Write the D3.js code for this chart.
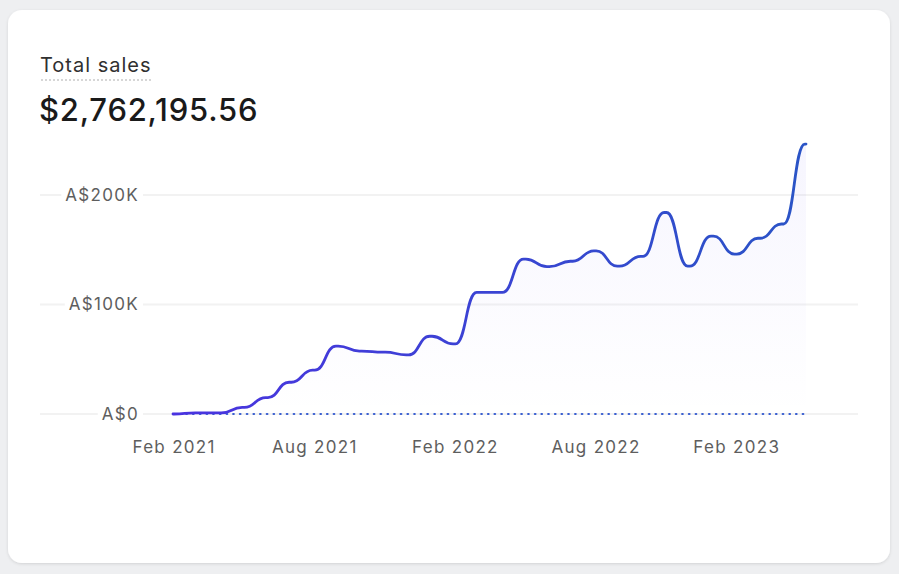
<!DOCTYPE html>
<html>
<head>
<meta charset="utf-8">
<script src="https://cdn.jsdelivr.net/npm/d3@7"></script>
<style>
  html, body { margin: 0; padding: 0; background: #eeeff1; }
  svg { display: block; }
  text { font-family: Inter, "Noto Sans", sans-serif; }
</style>
</head>
<body>
<svg id="chart" width="899" height="574"></svg>
<script>
// ---- data ----
const months = ["Feb 2021","Mar 2021","Apr 2021","May 2021","Jun 2021","Jul 2021","Aug 2021","Sep 2021","Oct 2021","Nov 2021","Dec 2021","Jan 2022",
  "Feb 2022","Mar 2022","Apr 2022","May 2022","Jun 2022","Jul 2022","Aug 2022","Sep 2022","Oct 2022","Nov 2022","Dec 2022","Jan 2023",
  "Feb 2023","Mar 2023","Apr 2023","May 2023"];
const sales = [0, 1000, 1000, 6000, 15000, 29000, 40000, 62000, 57500, 56500, 54000, 71000,
  64000, 111000, 111000, 141500, 134500, 139500, 149000, 135000, 144000, 184000, 135000, 162500,
  146000, 160500, 173500, 246500];
const previous = [0,0,0,0,0,0,0,0,0,0,0,0,0,0,0,0,0,0,0,0,0,0,0,0,0,0,0,0];
const xTickLabels = ["Feb 2021","Aug 2021","Feb 2022","Aug 2022","Feb 2023"];
const yTicks = [0, 100000, 200000];
const title = "Total sales";
const totalValue = "$2,762,195.56";

// ---- smooth step curve (rounded steps between points) ----
function StepSmooth(context, k) { this._context = context; this._k = k; }
StepSmooth.prototype = {
  areaStart() { this._line = 0; },
  areaEnd() { this._line = NaN; },
  lineStart() { this._x = this._y = NaN; this._point = 0; },
  lineEnd() {
    if (this._line || (this._line !== 0 && this._point === 1)) this._context.closePath();
    this._line = 1 - this._line;
  },
  point(x, y) {
    x = +x; y = +y;
    if (this._point === 0) {
      this._point = 1;
      this._line ? this._context.lineTo(x, y) : this._context.moveTo(x, y);
    } else {
      this._point = 2;
      const xm = (this._x + x) / 2, w = (x - this._x) * this._k;
      this._context.lineTo(xm - w, this._y);
      this._context.bezierCurveTo(xm, this._y, xm, y, xm + w, y);
      this._context.lineTo(x, y);
    }
    this._x = x; this._y = y;
  }
};
const curveStepSmooth = context => new StepSmooth(context, 0.45);

// ---- drawing ----
const svg = d3.select("#chart");
const defs = svg.append("defs");

const shadow = defs.append("filter").attr("id","shadow").attr("x","-5%").attr("y","-5%").attr("width","110%").attr("height","115%");
shadow.append("feDropShadow").attr("dx",0).attr("dy",1).attr("stdDeviation",1.5).attr("flood-color","#000").attr("flood-opacity",0.12);

svg.append("rect").attr("x",8).attr("y",10).attr("width",882).attr("height",553)
  .attr("rx",14).attr("fill","#ffffff").attr("filter","url(#shadow)");

// title
svg.append("text").attr("x",40).attr("y",72).attr("font-size",20).attr("letter-spacing",1)
  .attr("fill","#303030").text(title);
svg.append("line").attr("x1",41).attr("x2",152).attr("y1",80).attr("y2",80)
  .attr("stroke","#c9c9c9").attr("stroke-width",1.5).attr("stroke-dasharray","2 2");
svg.append("text").attr("x",39).attr("y",121).attr("font-size",31).attr("font-weight",500)
  .attr("letter-spacing",0.8).attr("fill","#1a1a1a").text(totalValue);

const x = d3.scalePoint().domain(months).range([173, 806]);
const y = d3.scaleLinear().domain([0, 200000]).range([414, 195]);

// gridlines
const grid = svg.append("g");
grid.selectAll("line").data(yTicks).join("line")
  .attr("x1",40).attr("x2",858)
  .attr("y1",d=>y(d)).attr("y2",d=>y(d))
  .attr("stroke","#f2f2f2").attr("stroke-width",2);

// y axis labels with background
const fmtY = d => d === 0 ? "A$0" : "A$" + d3.format("~s")(d).replace("k","K");
const yAxis = svg.append("g").attr("transform","translate(139,0)")
  .call(d3.axisLeft(y).tickValues(yTicks).tickFormat(fmtY).tickSize(0).tickPadding(0));
yAxis.select(".domain").remove();
yAxis.selectAll("text").attr("font-size",17).attr("letter-spacing",1.3).attr("fill","#5e5e5e")
  .attr("font-family","Inter, 'Noto Sans', sans-serif");
yAxis.selectAll(".tick").each(function(){
  const t = d3.select(this);
  const bb = t.select("text").node().getBBox();
  t.insert("rect","text").attr("x",bb.x-4).attr("y",bb.y).attr("width",bb.width+8).attr("height",bb.height).attr("fill","#fff");
});

// x axis labels
const xAxis = svg.append("g").attr("transform","translate(0.6,441)")
  .call(d3.axisBottom(x).tickValues(xTickLabels).tickSize(0).tickPadding(0));
xAxis.select(".domain").remove();
xAxis.selectAll("text").attr("font-size",17).attr("letter-spacing",1.3).attr("fill","#5e5e5e")
  .attr("font-family","Inter, 'Noto Sans', sans-serif");

// gradients
const lineGrad = defs.append("linearGradient").attr("id","lineGrad")
  .attr("gradientUnits","userSpaceOnUse").attr("x1",173).attr("x2",806).attr("y1",0).attr("y2",0);
lineGrad.append("stop").attr("offset","0%").attr("stop-color","#4a33e0");
lineGrad.append("stop").attr("offset","100%").attr("stop-color","#2a54c6");

const areaGrad = defs.append("linearGradient").attr("id","areaGrad")
  .attr("x1",0).attr("x2",0).attr("y1",0).attr("y2",1);
areaGrad.append("stop").attr("offset","0%").attr("stop-color","#6b5bf0").attr("stop-opacity",0.06);
areaGrad.append("stop").attr("offset","100%").attr("stop-color","#6b5bf0").attr("stop-opacity",0.0);

const area = d3.area().x((d,i)=>x(months[i])).y0(y(0)).y1(d=>y(d)).curve(curveStepSmooth);
svg.append("path").datum(sales).attr("d",area).attr("fill","url(#areaGrad)");

// comparison dotted line
const line = d3.line().x((d,i)=>x(months[i])).y(d=>y(d)).curve(curveStepSmooth);
svg.append("path").datum(previous).attr("d",line).attr("fill","none")
  .attr("stroke","#3a5fd0").attr("stroke-width",2.2).attr("stroke-dasharray","0.6 6.1")
  .attr("stroke-linecap","round");

// main line
svg.append("path").datum(sales).attr("d",line).attr("fill","none")
  .attr("stroke","url(#lineGrad)").attr("stroke-width",2.8)
  .attr("stroke-linecap","round").attr("stroke-linejoin","round");
</script>
</body>
</html>
